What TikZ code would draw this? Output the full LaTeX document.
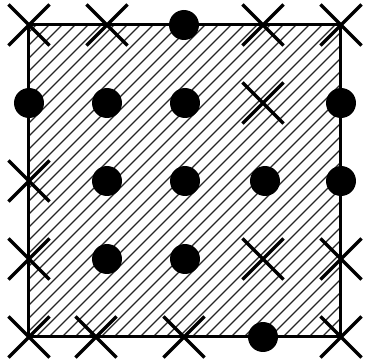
\documentclass[tikz,border=0pt]{standalone}
\usetikzlibrary{shapes.misc}
\begin{document}
\begin{tikzpicture}[x=1pt,y=-1pt,
  dotmark/.style={circle,fill=black,draw=none,minimum size=30pt,inner sep=0pt},
  crossmark/.style={cross out,draw=black,line width=3.2pt,minimum size=38pt,inner sep=0pt},
  hatch/.style={line width=1.2pt,black!85},
  frame/.style={line width=3pt}]
\useasboundingbox (0,0) rectangle (368,364);
\coordinate (tl) at (29,25);
\coordinate (br) at (341,337);
\begin{scope}
  \clip (tl) rectangle (br);
  \foreach \c in {9,22,...,720}{
    \draw[hatch] (\c,0) -- (\c-400,400);
  }
\end{scope}
\draw[frame] (tl) rectangle (br);
% row 1
\node[crossmark] (a1) at (29,25) {};
\node[crossmark] (a2) at (107,25) {};
\node[dotmark] (a3) at (184,25) {};
\node[crossmark] (a4) at (263,25) {};
\node[crossmark] (a5) at (341,25) {};
% row 2
\node[dotmark] (b1) at (29,103) {};
\node[dotmark] (b2) at (107,103) {};
\node[dotmark] (b3) at (185,103) {};
\node[crossmark] (b4) at (263,103) {};
\node[dotmark] (b5) at (341,103) {};
% row 3
\node[crossmark] (c1) at (29,181) {};
\node[dotmark] (c2) at (107,181) {};
\node[dotmark] (c3) at (185,181) {};
\node[dotmark] (c4) at (265,181) {};
\node[dotmark] (c5) at (341,181) {};
% row 4
\node[crossmark] (d1) at (29,259) {};
\node[dotmark] (d2) at (107,259) {};
\node[dotmark] (d3) at (185,259) {};
\node[crossmark] (d4) at (263,259) {};
\node[crossmark] (d5) at (341,259) {};
% row 5
\node[crossmark] (e1) at (29,337) {};
\node[crossmark] (e2) at (96,337) {};
\node[crossmark] (e3) at (184,337) {};
\node[dotmark] (e4) at (263,337) {};
\node[crossmark] (e5) at (341,337) {};
\end{tikzpicture}
\end{document}
